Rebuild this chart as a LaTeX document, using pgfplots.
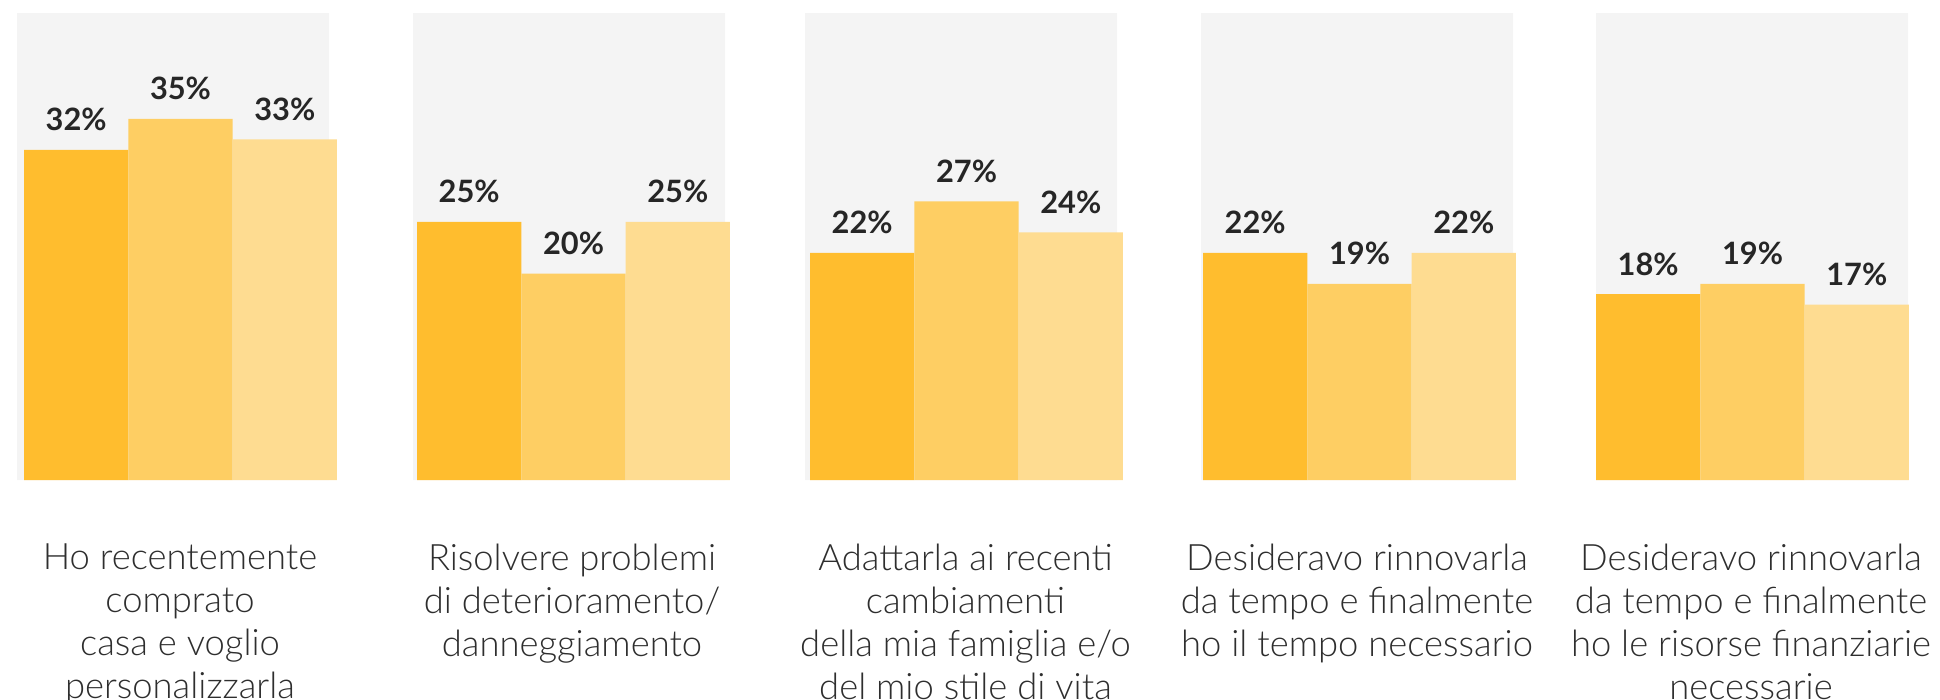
\documentclass[border=0pt]{standalone}
\usepackage{pgfplots}
\pgfplotsset{compat=1.18}
\usepackage{fontspec}
\setmainfont{Lato}
\newfontfamily\lightfont{Lato Light}
\definecolor{c1}{HTML}{FFBD2E}
\definecolor{c2}{HTML}{FECE63}
\definecolor{c3}{HTML}{FEDC91}
\definecolor{bg}{HTML}{F4F4F4}
\definecolor{txt}{HTML}{2E2E2E}
\definecolor{val}{HTML}{262626}
\tikzset{catlabel/.style={align=center, anchor=north, inner sep=0pt, text=txt, font=\lightfont\fontsize{9.1}{10.75}\selectfont}}
\pgfplotsset{valstyle/.style={
    nodes near coords={\pgfmathprintnumber[assume math mode=true]{\pgfplotspointmeta}\%},
    nodes near coords style={font=\fontsize{7.7}{9}\selectfont\bfseries, text=val, anchor=base, inner sep=0pt, yshift=4.75pt}
  }}
\begin{document}
\begin{tikzpicture}
\begin{axis}[
  width=485pt, height=174.75pt, scale only axis,
  xmin=0, xmax=1940, ymin=-21.22, ymax=46.51,
  hide axis, clip=false,
]
% background panels
\addplot[ybar, bar shift=0pt, bar width=312, fill=bg, draw=none]
  coordinates {(173,45.25) (569,45.25) (961,45.25) (1357,45.25) (1752,45.25)};
% series 1
\addplot[ybar, bar shift=0pt, bar width=104.3, fill=c1, draw=none, valstyle]
  coordinates {(76.2,32) (469.2,25) (862.2,22) (1255.2,22) (1648.2,18)};
% series 2
\addplot[ybar, bar shift=0pt, bar width=104.3, fill=c2, draw=none, valstyle]
  coordinates {(180.5,35) (573.5,20) (966.5,27) (1359.5,19) (1752.5,19)};
% series 3
\addplot[ybar, bar shift=0pt, bar width=104.3, fill=c3, draw=none, valstyle]
  coordinates {(284.8,33) (677.8,25) (1070.8,24) (1463.8,22) (1856.8,17)};

\node[catlabel] at (axis cs:180,-6.1) {Ho recentemente\\comprato\\casa e voglio\\personalizzarla};
\node[catlabel] at (axis cs:572,-6.1) {Risolvere problemi\\di deterioramento/\\danneggiamento};
\node[catlabel] at (axis cs:965.5,-6.1) {Adattarla ai recenti\\cambiamenti\\della mia famiglia e/o\\del mio stile di vita};
\node[catlabel] at (axis cs:1357,-6.1) {Desideravo rinnovarla\\da tempo e finalmente\\ho il tempo necessario};
\node[catlabel] at (axis cs:1751,-6.1) {Desideravo rinnovarla\\da tempo e finalmente\\ho le risorse finanziarie\\necessarie};
\end{axis}
\pgfresetboundingbox
\path[use as bounding box] (current axis.south west) rectangle (current axis.north east);
\end{tikzpicture}
\end{document}
